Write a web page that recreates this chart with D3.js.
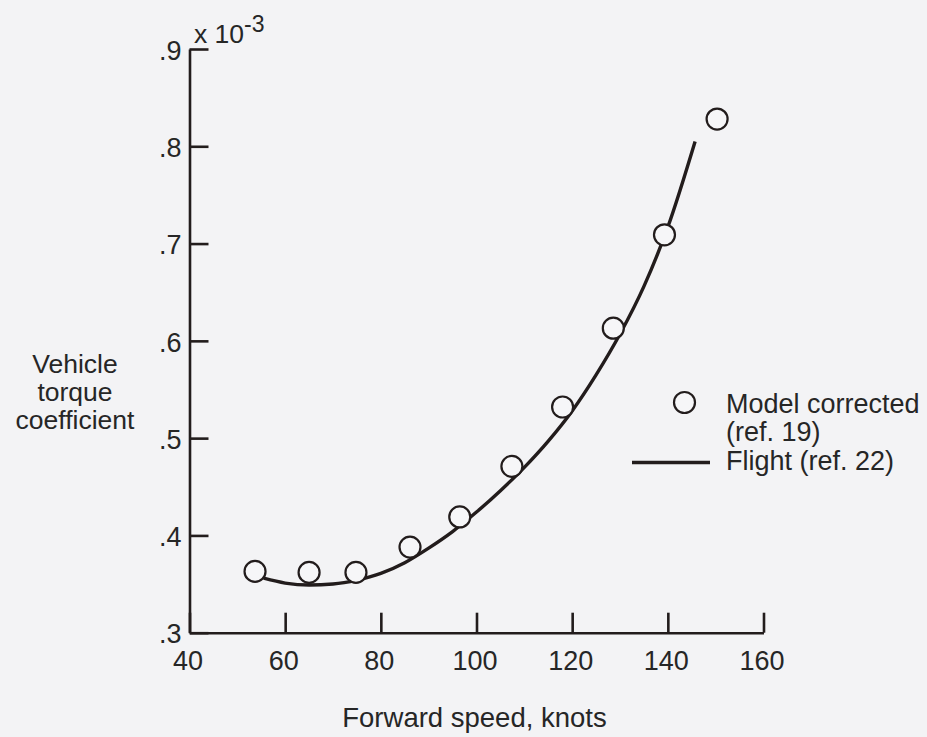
<!DOCTYPE html>
<html>
<head>
<meta charset="utf-8">
<script src="https://cdn.jsdelivr.net/npm/d3@7"></script>
<style>
  html, body { margin: 0; padding: 0; background: #f3f3f5; }
  svg { display: block; }
  text { font-family: "Liberation Sans", Arial, Helvetica, sans-serif; fill: #262626; }
</style>
</head>
<body>
<svg id="chart" width="927" height="737"></svg>
<script>
// Forward speed (knots) and vehicle torque coefficient (x 10^-3)
const modelSpeed = [53.7, 65.0, 74.8, 86.1, 96.5, 107.4, 118.0, 128.6, 139.3, 150.3];
const modelTorque = [0.363, 0.362, 0.362, 0.388, 0.419, 0.471, 0.532, 0.613, 0.709, 0.828];

const flightSpeed = [55.5, 60, 65, 70, 75, 80, 85, 90, 95, 100, 105, 110, 115, 120, 125, 130, 135, 140, 145.7];
const flightTorque = [0.356, 0.351, 0.349, 0.350, 0.354, 0.361, 0.372, 0.387, 0.404, 0.424, 0.446, 0.470, 0.497, 0.528, 0.565, 0.607, 0.656, 0.717, 0.805];

const xTicks = [40, 60, 80, 100, 120, 140, 160];
const yTicks = [0.3, 0.4, 0.5, 0.6, 0.7, 0.8, 0.9];
const yTickLabels = [".3", ".4", ".5", ".6", ".7", ".8", ".9"];

const ink = "#221c1c";
const svg = d3.select("#chart");

const x = d3.scaleLinear().domain([40, 160]).range([189.5, 763.5]);
const y = d3.scaleLinear().domain([0.3, 0.9]).range([632.7, 49]);

// x axis with inward ticks
const xAxis = svg.append("g")
  .attr("transform", `translate(0,${y(0.3)})`)
  .call(d3.axisBottom(x).tickValues(xTicks).tickSizeInner(-20).tickSizeOuter(0).tickPadding(18).tickFormat(d3.format("d")));

// y axis with inward ticks
const yAxis = svg.append("g")
  .attr("transform", `translate(${x(40)},0)`)
  .call(d3.axisLeft(y).tickValues(yTicks).tickSizeInner(-19).tickSizeOuter(0).tickPadding(8)
    .tickFormat((d, i) => yTickLabels[i]));

[xAxis, yAxis].forEach(g => {
  g.select(".domain").attr("stroke", ink).attr("stroke-width", 2.6);
  g.selectAll(".tick line").attr("stroke", ink).attr("stroke-width", 2.6);
  g.selectAll(".tick text")
    .attr("font-size", 27)
    .attr("font-family", "Liberation Sans, Arial, sans-serif")
    .attr("fill", "#262626");
});
yAxis.selectAll(".tick text").attr("dy", "0.38em");
xAxis.selectAll(".tick text").attr("dx", -2);

// multiplier label at top of y axis
const mult = svg.append("text")
  .attr("x", 194).attr("y", 43)
  .attr("font-size", 26.5);
mult.append("tspan").text("x 10");
mult.append("tspan").attr("dy", -11).attr("font-size", 23).text("-3");

// flight curve
const line = d3.line()
  .x((d, i) => x(flightSpeed[i]))
  .y(d => y(d))
  .curve(d3.curveMonotoneX);

svg.append("path")
  .datum(flightTorque)
  .attr("d", line)
  .attr("fill", "none")
  .attr("stroke", ink)
  .attr("stroke-width", 3.4)
  .attr("stroke-linecap", "butt");

// model corrected points
svg.append("g")
  .selectAll("circle")
  .data(modelTorque)
  .join("circle")
  .attr("cx", (d, i) => x(modelSpeed[i]))
  .attr("cy", d => y(d))
  .attr("r", 10.5)
  .attr("fill", "#f6f6f8")
  .attr("stroke", ink)
  .attr("stroke-width", 2.2);

// axis titles
svg.append("text")
  .attr("x", x(100) - 2).attr("y", 727)
  .attr("text-anchor", "middle")
  .attr("font-size", 27.5)
  .text("Forward speed, knots");

const yTitle = svg.append("text")
  .attr("text-anchor", "middle")
  .attr("font-size", 26.5);
["Vehicle", "torque", "coefficient"].forEach((t, i) => {
  yTitle.append("tspan").attr("x", 75).attr("y", 373 + i * 28).text(t);
});

// legend
const legend = svg.append("g");
legend.append("circle")
  .attr("cx", 684.5).attr("cy", 402.5).attr("r", 10.5)
  .attr("fill", "#f6f6f8").attr("stroke", ink).attr("stroke-width", 2.2);
legend.append("line")
  .attr("x1", 632).attr("x2", 710).attr("y1", 462.5).attr("y2", 462.5)
  .attr("stroke", ink).attr("stroke-width", 3.4);
legend.append("text").attr("x", 726).attr("y", 413).attr("font-size", 27).text("Model corrected");
legend.append("text").attr("x", 726).attr("y", 441).attr("font-size", 27).text("(ref. 19)");
legend.append("text").attr("x", 726).attr("y", 470).attr("font-size", 27).text("Flight (ref. 22)");
</script>
</body>
</html>
